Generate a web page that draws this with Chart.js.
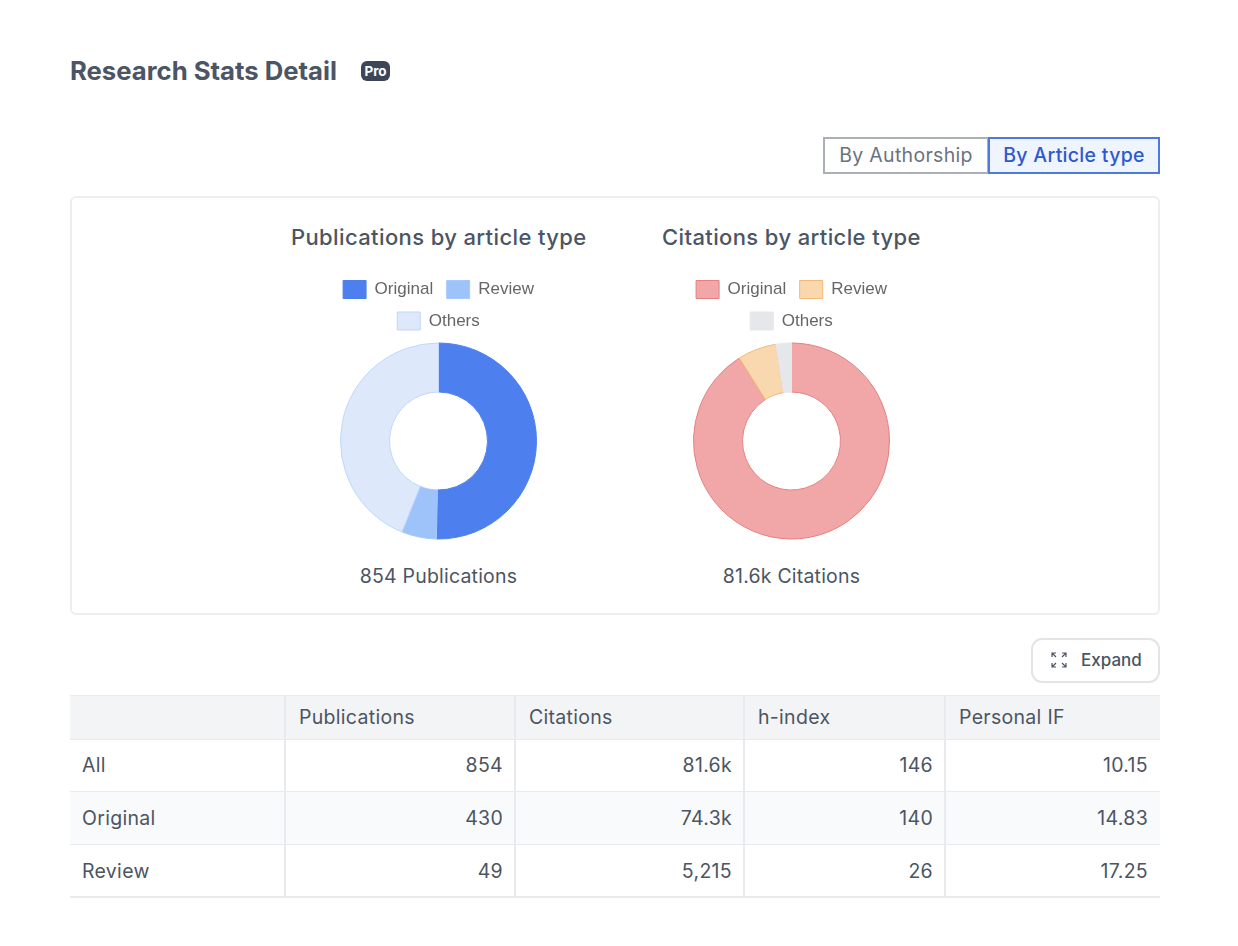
<!DOCTYPE html>
<html><head><meta charset="utf-8">
<script src="https://cdn.jsdelivr.net/npm/chart.js@4"></script>
<style>
html,body{margin:0;padding:0;background:#fff;width:1238px;height:946px;overflow:hidden;font-family:Inter,sans-serif;}
.a{position:absolute;white-space:nowrap;}
canvas{position:absolute;}
.cell{position:absolute;box-sizing:border-box;font-size:19.5px;letter-spacing:.3px;color:#4b5563;line-height:1;display:flex;align-items:center;}
</style></head><body>
<div class="a" style="left:70px;top:55px;font-size:25.7px;font-weight:650;color:#4b5563;line-height:32px">Research Stats Detail</div>
<div class="a" style="left:361px;top:61px;width:29px;height:20px;background:#3d4659;border-radius:6px;color:#fff;font-size:13.5px;font-weight:700;text-align:center;line-height:20px">Pro</div>
<div class="a" style="left:823px;top:137px;width:166px;height:37px;box-sizing:border-box;border:2px solid #abafb8;color:#6b7280;font-size:19.5px;letter-spacing:.3px;text-align:center;line-height:32px">By Authorship</div>
<div class="a" style="left:988px;top:137px;width:172px;height:37px;box-sizing:border-box;border:2px solid #5079e0;background:#eff5ff;color:#2f58d0;font-size:19.5px;letter-spacing:.3px;font-weight:500;text-align:center;line-height:32px">By Article type</div>
<div class="a" style="left:70px;top:196px;width:1090px;height:419px;box-sizing:border-box;border:2px solid #eceef1;border-radius:6px"></div>
<div class="a" style="left:291px;top:224px;font-size:22px;letter-spacing:.38px;font-weight:450;color:#4b5563;line-height:27px">Publications by article type</div>
<div class="a" style="left:662px;top:224px;font-size:22px;letter-spacing:.38px;font-weight:450;color:#4b5563;line-height:27px">Citations by article type</div>
<canvas id="c1" style="left:308px;top:267px;width:261px;height:275px"></canvas>
<canvas id="c2" style="left:661px;top:267px;width:261px;height:275px"></canvas>
<div class="a" style="left:338px;width:201px;top:564px;text-align:center;font-size:19.5px;letter-spacing:.2px;color:#4b5563;line-height:25px" id="t1"></div>
<div class="a" style="left:691px;width:201px;top:564px;text-align:center;font-size:19.5px;letter-spacing:.2px;color:#4b5563;line-height:25px" id="t2"></div>
<div class="a" style="left:1031px;top:638px;width:129px;height:45px;box-sizing:border-box;border:2px solid #e2e4e8;border-radius:11px"></div>
<svg class="a" style="left:1051px;top:652px" width="16" height="16" viewBox="0 0 16 16" fill="none" stroke="#4b5563" stroke-width="1.2">
<path d="M1 5V1h4M1 1l4 4M11 1h4v4M15 1l-4 4M1 11v4h4M1 15l4-4M15 11v4h-4M15 15l-4-4"/></svg>
<div class="a" style="left:1081px;top:650px;font-size:17px;font-weight:500;color:#4b5563;line-height:21px">Expand</div>
<div id="tbl"></div>
<script>
const categories = ["Original", "Review", "Others"];
const publications = [430, 49, 375];
const citations = [74300, 5215, 2085];
const pubTotal = "854 Publications";
const citTotal = "81.6k Citations";
const pubFill = ["#4d80ee", "#9dc3fa", "#dde8fb"];
const pubLine = ["#4d80ee", "#a6c9fb", "#bfd7fb"];
const citFill = ["#f1a7a7", "#f9d8af", "#e5e7eb"];
const citLine = ["#e77f7f", "#f6b877", "#e5e7eb"];
const tableHead = ["", "Publications", "Citations", "h-index", "Personal IF"];
const tableRows = [
  ["All", "854", "81.6k", "146", "10.15"],
  ["Original", "430", "74.3k", "140", "14.83"],
  ["Review", "49", "5,215", "26", "17.25"]
];
const colEdges = [70, 286, 516, 745, 946, 1160];
const rowEdges = [695, 740, 792, 845, 898];

document.getElementById("t1").textContent = pubTotal;
document.getElementById("t2").textContent = citTotal;

function donut(id, values, fill, line) {
  new Chart(document.getElementById(id), {
    type: "doughnut",
    data: { labels: categories, datasets: [{ data: values, backgroundColor: fill, borderColor: line, borderWidth: 1 }] },
    options: {
      responsive: false, animation: false, cutout: "50%", radius: 98,
      layout: { padding: 0 },
      plugins: {
        tooltip: { enabled: false },
        legend: { position: "top", labels: { boxWidth: 23, boxHeight: 18, padding: 13.5, color: "#666",
          font: { family: "Liberation Sans", size: 17 } } }
      }
    }
  });
}
["c1", "c2"].forEach(i => { const c = document.getElementById(i); c.width = 261; c.height = 275; });
donut("c1", publications, pubFill, pubLine);
donut("c2", citations, citFill, citLine);

const tbl = document.getElementById("tbl");
function cell(x0, x1, y0, y1, text, opts) {
  const d = document.createElement("div");
  d.className = "cell";
  d.style.cssText = `left:${x0}px;top:${y0}px;width:${x1-x0}px;height:${y1-y0}px;` + opts;
  d.textContent = text;
  tbl.appendChild(d);
}
const line = "#e8eaee";
for (let c = 0; c < 5; c++) {
  const br = c < 4 ? `border-right:2px solid ${line};` : "";
  cell(colEdges[c], colEdges[c+1], rowEdges[0], rowEdges[1], tableHead[c],
    `background:#f3f4f6;border-top:1.5px solid ${line};border-bottom:1.5px solid ${line};padding-left:${c?13:12}px;${br}`);
  for (let r = 0; r < 3; r++) {
    const bg = r === 1 ? "#f9fafb" : "#fff";
    const bb = r === 2 ? `border-bottom:2px solid ${line};` : `border-bottom:1.5px solid ${line};`;
    const pt = r === 0 ? "" : "padding-top:1.5px;";
    cell(colEdges[c], colEdges[c+1], rowEdges[r+1], rowEdges[r+2], tableRows[r][c],
      `background:${bg};${bb}${br}${pt}` + (c ? `justify-content:flex-end;padding-right:${c<4?11:12}px;` : "padding-left:12px;"));
  }
}
</script>
</body></html>
